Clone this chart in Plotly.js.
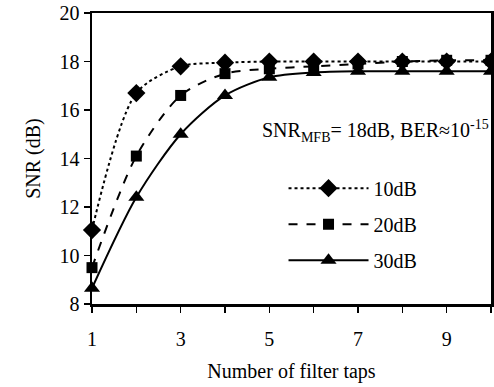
<!DOCTYPE html>
<html>
<head>
<meta charset="utf-8">
<script src="https://cdn.plot.ly/plotly-3.0.1.min.js"></script>
<style>html,body{margin:0;padding:0;background:#fff;}#chart{width:494px;height:387px;}</style>
</head>
<body>
<div id="chart"></div>
<script>
var taps = [1, 2, 3, 4, 5, 6, 7, 8, 9, 10];
var snr10dB = [11.05, 16.7, 17.8, 17.95, 18.0, 18.0, 18.0, 18.0, 18.0, 18.0];
var snr20dB = [9.5, 14.1, 16.6, 17.5, 17.7, 17.8, 17.9, 18.0, 18.05, 18.05];
var snr30dB = [8.65, 12.4, 15.0, 16.6, 17.35, 17.55, 17.6, 17.6, 17.6, 17.6];
var seriesNames = ['10dB', '20dB', '30dB'];
var yTickVals = [8, 10, 12, 14, 16, 18, 20];

var font = {family: 'Liberation Serif, Times New Roman, serif', color: '#000', size: 20};

function tr(y, name, dash, sym, size) {
  return {
    x: taps, y: y, name: name, legendgroup: name, type: 'scatter', mode: 'lines+markers',
    line: {color: '#000', width: 2, dash: dash, shape: 'spline', smoothing: 0.8},
    marker: {symbol: sym, size: size, color: '#000'},
    cliponaxis: false
  };
}

var data = [
  tr(snr10dB, seriesNames[0], 'dot', 'diamond', 14),
  tr(snr20dB, seriesNames[1], 'dash', 'square', 11),
  tr(snr30dB, seriesNames[2], 'solid', 'triangle-up', 14)
];

var layout = {
  width: 494, height: 387,
  margin: {l: 92, r: 3, t: 13, b: 83},
  paper_bgcolor: '#fff', plot_bgcolor: '#fff',
  font: font,
  showlegend: true,
  legend: {x: 0.48, y: 0.465, xanchor: 'left', yanchor: 'top', bgcolor: 'rgba(0,0,0,0)',
           font: font, itemwidth: 80, traceorder: 'grouped', tracegroupgap: 7},
  xaxis: {
    range: [1, 10], tick0: 1, dtick: 2,
    ticks: 'outside', ticklen: 6, tickwidth: 1.5, tickcolor: '#000',
    minor: {dtick: 1, tick0: 1, ticks: 'outside', ticklen: 6, tickwidth: 1.5, tickcolor: '#000', showgrid: false},
    ticklabelstandoff: 9,
    showline: true, linecolor: '#000', linewidth: 2.5, mirror: true,
    showgrid: false, zeroline: false, tickfont: font,
    title: {text: 'Number of filter taps', font: font, standoff: 16}
  },
  yaxis: {
    range: [8, 20], tickvals: yTickVals,
    ticks: 'outside', ticklen: 6, tickwidth: 1.5, tickcolor: '#000',
    showline: true, linecolor: '#000', linewidth: 2.5, mirror: true,
    showgrid: false, zeroline: false, tickfont: font,
    title: {text: 'SNR (dB)', font: font, standoff: 14}
  },
  annotations: [{
    xref: 'paper', yref: 'paper', x: 1.0, y: 0.595, xanchor: 'right', yanchor: 'middle',
    showarrow: false, font: font,
    text: 'SNR<sub>MFB</sub>= 18dB, BER≈10<sup>-15</sup>'
  }]
};

Plotly.newPlot('chart', data, layout, {staticPlot: true, displayModeBar: false});
</script>
</body>
</html>
